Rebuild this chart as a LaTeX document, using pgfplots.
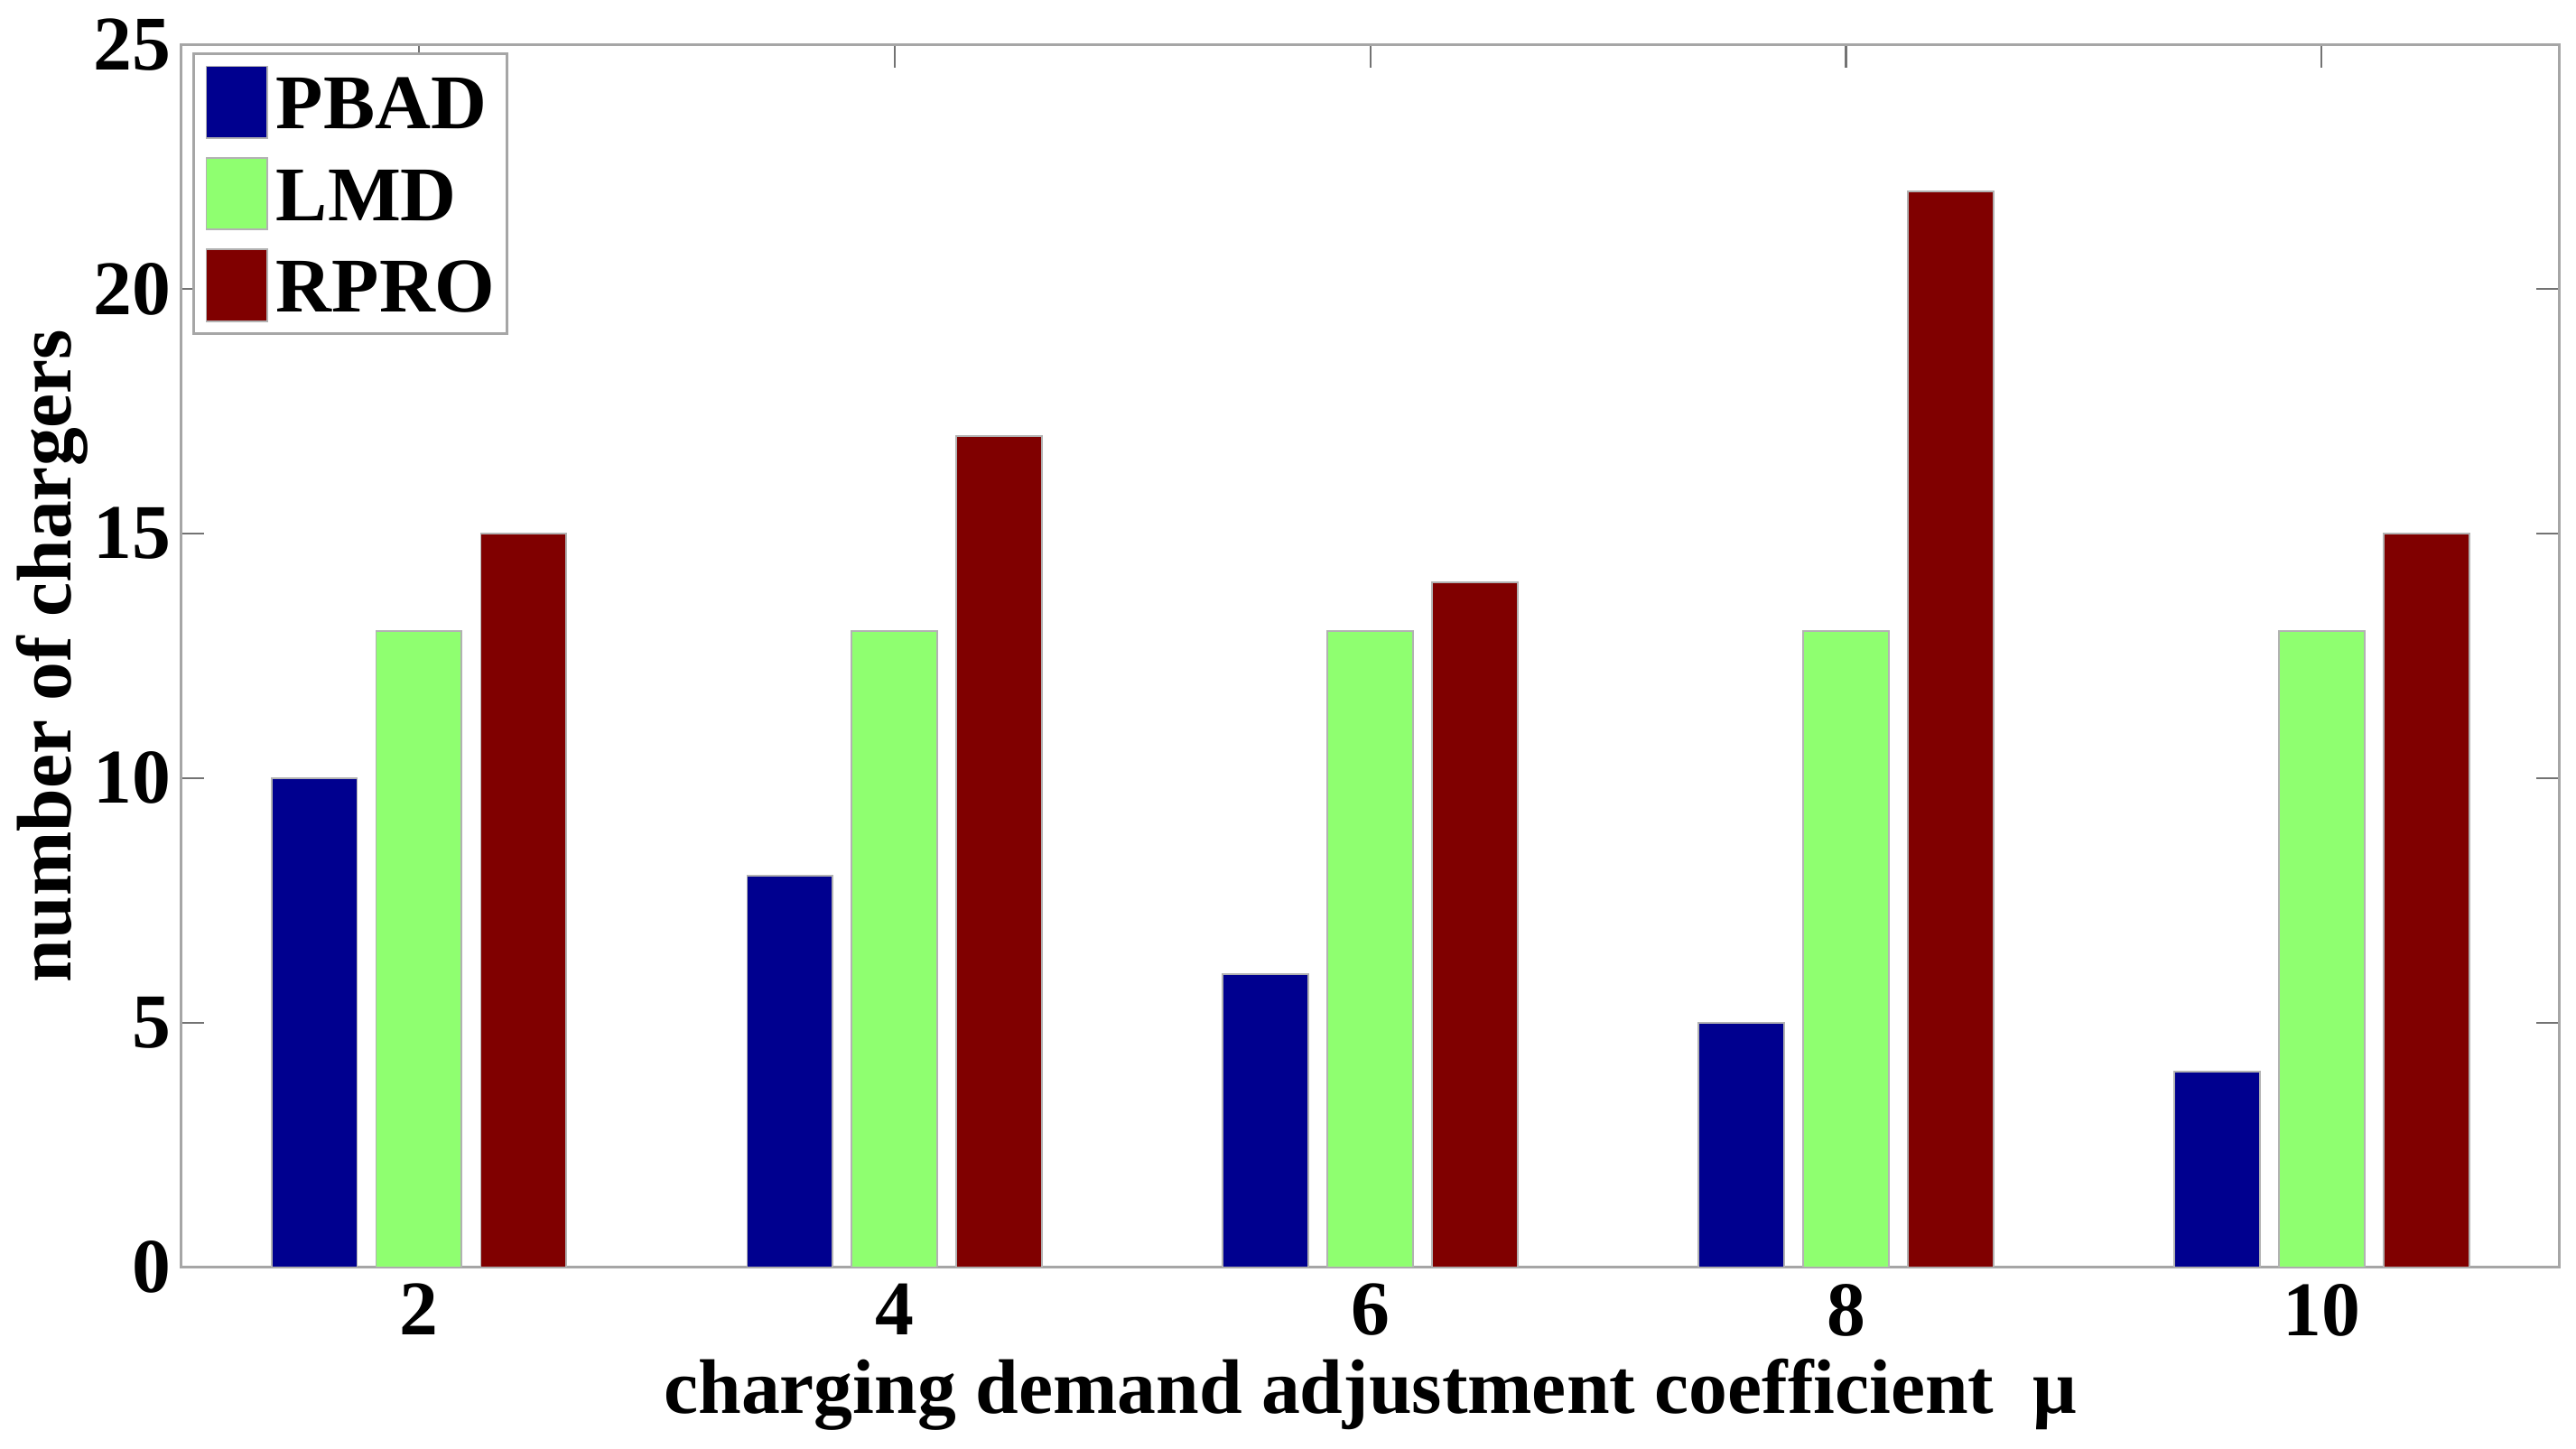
\documentclass[border=0pt]{standalone}
\usepackage{fontspec}
\setmainfont{Liberation Serif}
\usepackage{pgfplots}
\pgfplotsset{compat=1.18}
\definecolor{cblue}{rgb}{0,0,0.5625}
\definecolor{cgreen}{rgb}{0.5625,1,0.4375}
\definecolor{cred}{rgb}{0.5,0,0}
\newcommand{\bigf}{\fontsize{23.5}{28}\selectfont\bfseries}
\begin{document}
\begin{tikzpicture}
\begin{axis}[
  name=ax,
  scale only axis,
  width=722.5pt, height=371.5pt,
  xmin=1, xmax=11, ymin=0, ymax=25,
  xtick={2,4,6,8,10}, ytick={0,5,10,15,20,25},
  /pgf/number format/assume math mode=true,
  tick label style={font=\bigf},
  yticklabel style={inner xsep=3pt},
  xticklabel style={yshift=-1.5pt},
  tick align=inside,
  major tick length=7pt,
  axis line style={draw=black!35, line width=0.8pt},
  tick style={draw=black!55, line width=0.6pt},
  xlabel={charging demand adjustment coefficient \ μ},
  ylabel={number of chargers},
  label style={font=\bigf},
  xlabel style={at={([yshift=-44.5pt]axis description cs:0.5,0)}, anchor=base},
  ylabel style={at={([xshift=-33.5pt]axis description cs:0,0.5)}, anchor=base},
  legend style={at={(0,1)}, anchor=north west, xshift=3.5pt, yshift=-2.5pt,
    draw=black!35, line width=0.8pt, inner sep=3.5pt, font=\bigf,
    row sep=5.5pt, column sep=0pt,
    nodes={inner sep=0pt, text height=19.1pt, text depth=2.75pt}},
  legend cell align=left,
  legend image code/.code={\draw[#1, draw=black!30, line width=0.5pt] (0.5pt,-10.9pt) rectangle (19pt,10.9pt); \path (21.5pt,0pt);},
]
\addplot[ybar, bar width=0.36, bar shift=-0.44, fill=cblue, draw=black!30, line width=0.5pt]
  coordinates {(2,10) (4,8) (6,6) (8,5) (10,4)};
\addlegendentry{PBAD}
\addplot[ybar, bar width=0.36, bar shift=0, fill=cgreen, draw=black!30, line width=0.5pt]
  coordinates {(2,13) (4,13) (6,13) (8,13) (10,13)};
\addlegendentry{LMD}
\addplot[ybar, bar width=0.36, bar shift=0.44, fill=cred, draw=black!30, line width=0.5pt]
  coordinates {(2,15) (4,17) (6,14) (8,22) (10,15)};
\addlegendentry{RPRO}
\end{axis}
\pgfresetboundingbox
\path ([xshift=-55pt,yshift=-55pt]ax.south west) rectangle ([xshift=5pt,yshift=13.5pt]ax.north east);
\end{tikzpicture}
\end{document}
